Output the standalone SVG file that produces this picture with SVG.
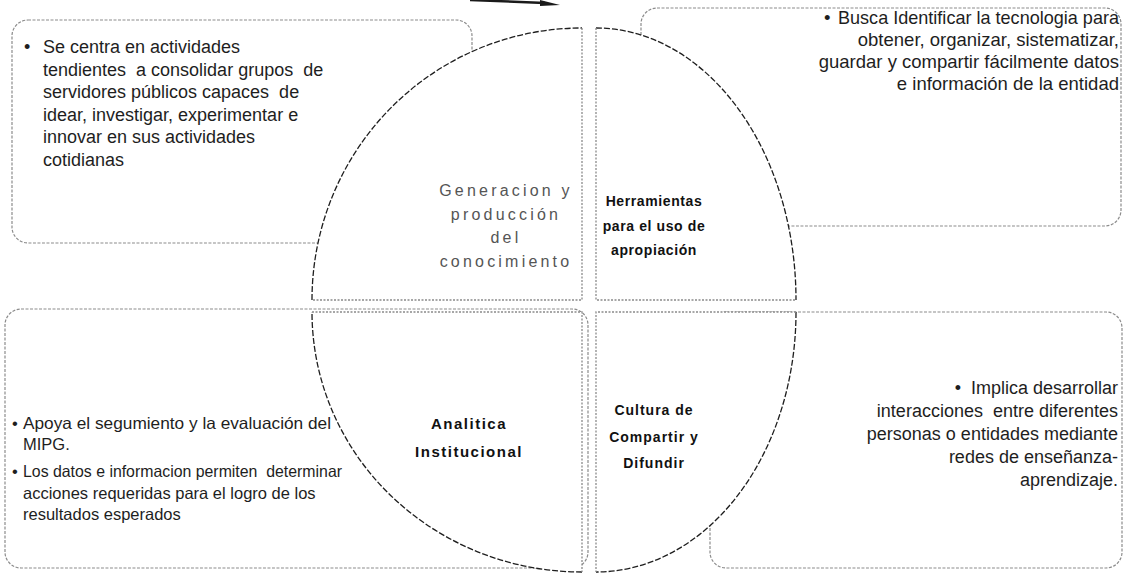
<svg xmlns="http://www.w3.org/2000/svg" width="1125" height="579" viewBox="0 0 1125 579">
<style>
.bg{fill:#ffffff}
.box{fill:#ffffff;stroke:#8c8c8c;stroke-width:1.2;stroke-dasharray:3 1.5}
.quad{fill:#ffffff;stroke:none}
.arc{fill:none;stroke:#1e1e1e;stroke-width:1.3;stroke-dasharray:6 2}
.edge{fill:none;stroke:#8a8a8a;stroke-width:1.3;stroke-dasharray:2 1.5}
.body{font-family:"Liberation Sans",Arial,sans-serif;font-size:18px;fill:#1e1e1e;white-space:pre}
.tr{font-size:18.5px}
.bl{font-size:16.5px}
.end{text-anchor:end}
.lbl{font-family:"Liberation Sans",Arial,sans-serif;font-size:14px;font-weight:bold;letter-spacing:0.6px;fill:#111;text-anchor:middle}
.lbl-light{font-family:"Liberation Sans",Arial,sans-serif;font-size:16px;letter-spacing:3.2px;fill:#555;text-anchor:middle}
</style>
<rect class="bg" x="0" y="0" width="1125" height="579"/>

<g id="box-top-left">
<rect class="box" x="12" y="20" width="460" height="223" rx="16"/>
<text class="body" x="24" y="53">•</text>
<text class="body" x="43" y="53">Se centra en actividades</text>
<text class="body" x="43" y="75.5">tendientes  a consolidar grupos  de</text>
<text class="body" x="43" y="98">servidores públicos capaces  de</text>
<text class="body" x="43" y="120.5">idear, investigar, experimentar e</text>
<text class="body" x="43" y="143">innovar en sus actividades</text>
<text class="body" x="43" y="165.5">cotidianas</text>
</g>

<g id="box-top-right">
<rect class="box" x="641" y="8" width="480" height="218" rx="16"/>
<text class="body tr" x="824" y="24">•</text>
<text class="body tr" x="838" y="24" textLength="281" lengthAdjust="spacingAndGlyphs">Busca Identificar la tecnologia para</text>
<text class="body tr end" x="1119" y="46">obtener, organizar, sistematizar,</text>
<text class="body tr end" x="1119" y="68">guardar y compartir fácilmente datos</text>
<text class="body tr end" x="1119" y="90">e información de la entidad</text>
</g>

<g id="box-bottom-left">
<rect class="box" x="5" y="309" width="583" height="259" rx="16"/>
<text class="body bl" x="12" y="429">•</text>
<text class="body bl" x="23" y="429" textLength="308" lengthAdjust="spacingAndGlyphs">Apoya el segumiento y la evaluación del</text>
<text class="body bl" x="23" y="450">MIPG.</text>
<text class="body bl" x="12" y="477">•</text>
<text class="body bl" x="23" y="477" textLength="319" lengthAdjust="spacingAndGlyphs">Los datos e informacion permiten  determinar</text>
<text class="body bl" x="23" y="498.5">acciones requeridas para el logro de los</text>
<text class="body bl" x="23" y="520">resultados esperados</text>
</g>

<g id="box-bottom-right">
<rect class="box" x="710" y="312" width="412" height="256" rx="16"/>
<text class="body end" x="1118" y="394">•  Implica desarrollar</text>
<text class="body end" x="1118" y="417">interacciones  entre diferentes</text>
<text class="body end" x="1118" y="440">personas o entidades mediante</text>
<text class="body end" x="1118" y="463">redes de enseñanza-</text>
<text class="body end" x="1118" y="486">aprendizaje.</text>
</g>

<g id="quad-generacion">
<path class="quad" d="M582,300 L312,300 A270,272 0 0 1 582,28 Z"/>
<path class="arc" d="M312,300 A270,272 0 0 1 582,28"/>
<path class="edge" d="M582,28 L582,300 L312,300"/>
<text class="lbl-light" x="506" y="196">Generacion y</text>
<text class="lbl-light" x="506" y="220">producción</text>
<text class="lbl-light" x="506" y="243">del</text>
<text class="lbl-light" x="506" y="267">conocimiento</text>
</g>

<g id="quad-herramientas">
<path class="quad" d="M596,300 L596,28 A200,272 0 0 1 796,300 Z"/>
<path class="arc" d="M596,28 A200,272 0 0 1 796,300"/>
<path class="edge" d="M596,28 L596,300 L796,300"/>
<text class="lbl" x="654" y="206">Herramientas</text>
<text class="lbl" x="654" y="231">para el uso de</text>
<text class="lbl" x="654" y="255">apropiación</text>
</g>

<g id="quad-analitica">
<path class="quad" d="M582,312 L582,572 A270,260 0 0 1 312,312 Z"/>
<path class="arc" d="M582,572 A270,260 0 0 1 312,312"/>
<path class="edge" d="M312,312 L582,312 L582,572"/>
<text class="lbl" x="469" y="429" style="font-size:15px;letter-spacing:1.5px">Analitica</text>
<text class="lbl" x="469" y="457" style="font-size:15px;letter-spacing:1.5px">Institucional</text>
</g>

<g id="quad-cultura">
<path class="quad" d="M596,312 L796,312 A200,260 0 0 1 596,572 Z"/>
<path class="arc" d="M796,312 A200,260 0 0 1 596,572"/>
<path class="edge" d="M796,312 L596,312 L596,572"/>
<text class="lbl" x="654" y="415" style="letter-spacing:1px">Cultura de</text>
<text class="lbl" x="654" y="442" style="letter-spacing:1px">Compartir y</text>
<text class="lbl" x="654" y="468" style="letter-spacing:1px">Difundir</text>
</g>

<g id="connectors">
<path d="M470,0 L545,3" fill="none" stroke="#1a1a1a" stroke-width="2.5"/>
<polygon points="540,0 560,5 540,6" fill="#1a1a1a"/>
</g>
</svg>
